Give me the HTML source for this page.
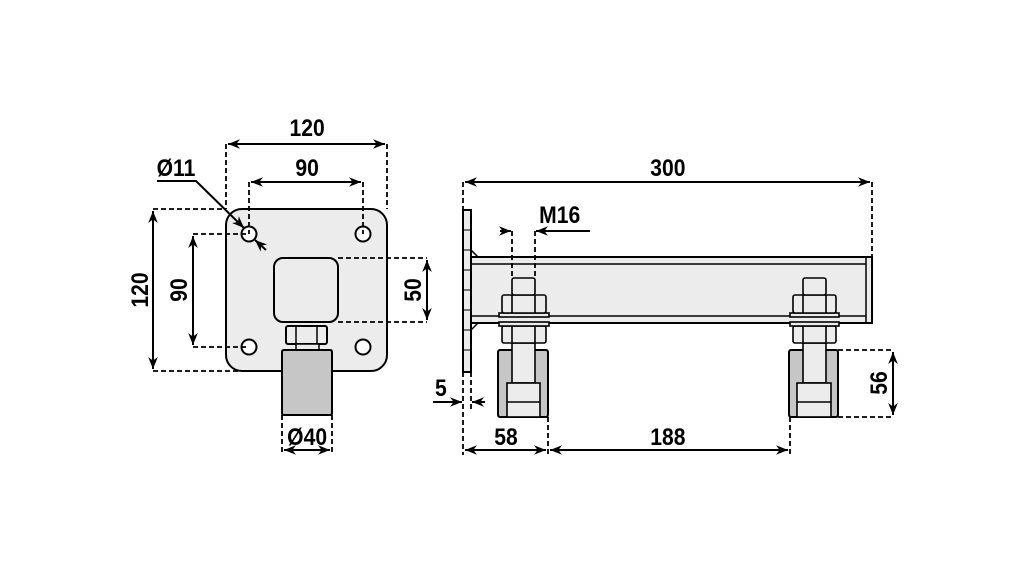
<!DOCTYPE html>
<html><head><meta charset="utf-8"><style>
html,body{margin:0;padding:0;background:#fff;width:1021px;height:567px;overflow:hidden}
text{font-family:"Liberation Sans",sans-serif;font-size:24px;font-weight:bold;fill:#000}
</style></head><body>
<svg width="1021" height="567" viewBox="0 0 1021 567" xmlns="http://www.w3.org/2000/svg">
<defs>
<marker id="a" viewBox="0 0 10 10" refX="10" refY="5" markerWidth="6" markerHeight="6" orient="auto-start-reverse"><path d="M0,1 L10,5 L0,9 L3,5Z" fill="#000"/></marker>
</defs>
<g stroke="#000" fill="none" stroke-width="2">
<rect x="226" y="209" width="161" height="162" rx="16" fill="#ececec" stroke-width="2"/>
<circle cx="249" cy="234" r="7.5" fill="#fff"/>
<circle cx="363" cy="234" r="7.5" fill="#fff"/>
<circle cx="249" cy="347" r="7.5" fill="#fff"/>
<circle cx="363" cy="347" r="7.5" fill="#fff"/>
<rect x="274" y="258" width="64" height="64" rx="9" fill="#ececec"/>
<rect x="286" y="326" width="41" height="18" rx="2" fill="#ececec"/>
<line x1="296" y1="326" x2="296" y2="344" stroke-width="1.5"/><line x1="317" y1="326" x2="317" y2="344" stroke-width="1.5"/>
<rect x="296" y="344" width="23" height="6" fill="#ececec" stroke-width="1.5"/>
<path d="M284,350 H330 Q332,350 332,352 V413 Q332,415 330,415 H284 Q282,415 282,413 V352 Q282,350 284,350Z" fill="#c6c6c6"/>
</g>
<g stroke="#000" stroke-width="1.8" stroke-dasharray="5,3" fill="none">
<path d="M226,144 V209 M387,144 V209 M249,182 V234 M363,182 V234"/>
<path d="M153,209 H226 M153,371 H240 M193,234 H249 M193,347 H249"/>
<path d="M338,258 H427 M338,322 H427"/>
<path d="M282,415 V455 M332,415 V455"/>
</g>
<g stroke="#000" stroke-width="2" fill="none">
<line x1="228" y1="144" x2="385" y2="144" marker-start="url(#a)" marker-end="url(#a)"/>
<line x1="251" y1="182" x2="361" y2="182" marker-start="url(#a)" marker-end="url(#a)"/>
<line x1="153" y1="211" x2="153" y2="369" marker-start="url(#a)" marker-end="url(#a)"/>
<line x1="193" y1="236" x2="193" y2="345" marker-start="url(#a)" marker-end="url(#a)"/>
<line x1="427" y1="260" x2="427" y2="320" marker-start="url(#a)" marker-end="url(#a)"/>
<line x1="284" y1="450" x2="330" y2="450" marker-start="url(#a)" marker-end="url(#a)"/>
<path d="M157,181 H196 L244,228" marker-end="url(#a)"/>
<line x1="266" y1="250" x2="255" y2="240" marker-end="url(#a)"/>
</g>
<g transform="scale(0.88,1)">
<text x="349" y="136" text-anchor="middle">120</text>
<text x="349" y="176" text-anchor="middle">90</text>
<text x="200" y="176" text-anchor="middle">Ø11</text>
<text x="349" y="445" text-anchor="middle">Ø40</text>
<text x="759" y="176" text-anchor="middle">300</text>
<text x="636" y="223" text-anchor="middle">M16</text>
<text x="501" y="396" text-anchor="middle">5</text>
<text x="575" y="445" text-anchor="middle">58</text>
<text x="759" y="445" text-anchor="middle">188</text>
</g>
<text transform="translate(148,290) rotate(-90) scale(0.88,1)" text-anchor="middle">120</text>
<text transform="translate(187,290) rotate(-90) scale(0.88,1)" text-anchor="middle">90</text>
<text transform="translate(421,290) rotate(-90) scale(0.88,1)" text-anchor="middle">50</text>
<text transform="translate(887,383) rotate(-90) scale(0.88,1)" text-anchor="middle">56</text>

<g stroke="#000" stroke-width="2" fill="none">
<rect x="463" y="210" width="8" height="162" fill="#ececec"/>
<path d="M463,230 H471 M463,250 H471 M463,270 H471 M463,290 H471 M463,310 H471 M463,330 H471 M463,350 H471" stroke-width="1"/>
<path d="M471,250 L478,257 M471,330 L478,323" stroke-width="1.5"/>
<rect x="471" y="257" width="401" height="66" fill="#ececec"/>
<path d="M471,264 H866 M471,316 H866 M866,257 V323" stroke-width="1.5"/>
</g>
<g stroke="#000" stroke-width="1.6" fill="#ececec">
<path d="M500,350 H546 Q548,350 548,353 V414 Q548,417 546,417 H500 Q498,417 498,414 V353 Q498,350 500,350Z" fill="#c6c6c6" stroke-width="2"/>
<rect x="512" y="343" width="23" height="40"/>
<rect x="507" y="383" width="33" height="34"/>
<line x1="507" y1="402" x2="540" y2="402"/>
<rect x="502" y="326" width="44" height="17" rx="2"/>
<path d="M512,326 V343 M535,326 V343"/>
<rect x="499" y="322" width="50" height="4"/>
<rect x="499" y="313" width="50" height="4"/>
<rect x="502" y="295" width="44" height="18" rx="2"/>
<path d="M512,295 V313 M535,295 V313"/>
<rect x="512" y="278" width="23" height="17" rx="2"/>
<path d="M791,350 H836 Q838,350 838,353 V414 Q838,417 836,417 H791 Q789,417 789,414 V353 Q789,350 791,350Z" fill="#c6c6c6" stroke-width="2"/>
<rect x="803" y="343" width="23" height="40"/>
<rect x="797" y="383" width="34" height="34"/>
<line x1="797" y1="402" x2="831" y2="402"/>
<rect x="793" y="326" width="43" height="17" rx="2"/>
<path d="M803,326 V343 M826,326 V343"/>
<rect x="790" y="322" width="49" height="4"/>
<rect x="790" y="313" width="49" height="4"/>
<rect x="793" y="295" width="43" height="18" rx="2"/>
<path d="M803,295 V313 M826,295 V313"/>
<rect x="803" y="278" width="23" height="17" rx="2"/>
</g>
<g stroke="#000" stroke-width="1.8" stroke-dasharray="5,3" fill="none">
<path d="M463,182 V210 M463,372 V455 M872,182 V257 M471,372 V410"/>
<path d="M512,231 V278 M535,231 V278"/>
<path d="M548,417 V455 M790,417 V455"/>
<path d="M838,350 H893 M838,417 H893"/>
</g>
<g stroke="#000" stroke-width="2" fill="none">
<line x1="465" y1="182" x2="870" y2="182" marker-start="url(#a)" marker-end="url(#a)"/>
<line x1="500" y1="231" x2="511" y2="231" marker-end="url(#a)"/>
<line x1="590" y1="231" x2="536" y2="231" marker-end="url(#a)"/>
<line x1="433" y1="402" x2="462" y2="402" marker-end="url(#a)"/>
<line x1="485" y1="402" x2="472" y2="402" marker-end="url(#a)"/>
<line x1="465" y1="450" x2="546" y2="450" marker-start="url(#a)" marker-end="url(#a)"/>
<line x1="550" y1="450" x2="788" y2="450" marker-start="url(#a)" marker-end="url(#a)"/>
<line x1="893" y1="352" x2="893" y2="415" marker-start="url(#a)" marker-end="url(#a)"/>
</g>
</svg>
</body></html>
